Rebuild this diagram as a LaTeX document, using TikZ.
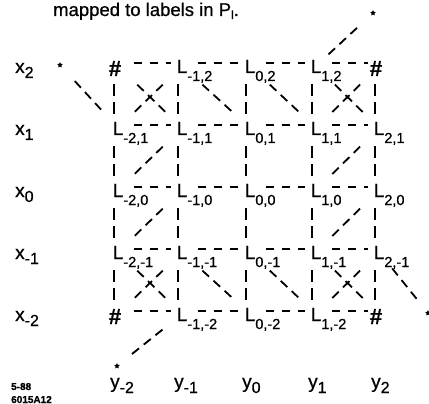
\documentclass[tikz,border=0pt]{standalone}
\usepackage{fontspec}
\setmainfont{Liberation Sans}[FakeBold=0.7]
\usetikzlibrary{calc,shapes.geometric}
\newcommand\lsub[1]{\raisebox{-8pt}{\fontsize{14.5}{14.5}\selectfont #1}}
\newcommand\rsub[1]{\raisebox{-5pt}{\fontsize{16}{16}\selectfont #1}}
\newcommand\tsub[1]{\raisebox{-3pt}{\fontsize{12}{12}\selectfont #1}}
\begin{document}
\begin{tikzpicture}[x=1pt,y=-1pt,
  lab/.style={font=\fontsize{19}{19}\selectfont, inner sep=0pt, anchor=base west},
  hashnode/.style={font=\fontsize{22}{22}\selectfont\bfseries, inner sep=0pt, anchor=base},
  hl/.style={line width=1.8pt, dash pattern=on 8pt off 8pt},
  vl/.style={line width=1.8pt, dash pattern=on 12pt off 6pt},
  dg/.style={line width=1.8pt, dash pattern=on 9pt off 6pt},
  starnode/.style={star, star points=5, star point ratio=2, fill=black, draw=none, inner sep=0pt, minimum size=6pt}]
\useasboundingbox (0,0) rectangle (429,404);

% grid coordinates
\foreach \i/\xx in {-2/114,-1/178,0/246,1/312,2/375}{
  \foreach \j/\yy in {2/59,1/121,0/183,-1/245,-2/307}{
    \coordinate (p\i\j) at (\xx,\yy+4);
    \coordinate (c\i\j) at (\xx+4,\yy+7);
  }
}

% title and side notes
\node[anchor=base west, inner sep=0pt, font=\fontsize{18.5}{18.5}\selectfont] (title) at (53,16) {mapped to labels in P\tsub{l}.};
\node[anchor=base west, inner sep=0pt, font=\fontsize{10}{10}\selectfont\bfseries] (note1) at (11,390) {5-88};
\node[anchor=base west, inner sep=0pt, font=\fontsize{10}{10}\selectfont\bfseries] (note2) at (11,403) {6015A12};

% row labels
\foreach \j/\yy in {2/59,1/121,0/183,-1/245,-2/307}{
  \node[lab] (x\j) at (15,\yy+14) {x\rsub{\j}};
}
% column labels
\foreach \i/\xx in {-2/114,-1/178,0/246,1/312,2/375}{
  \node[lab] (y\i) at (\xx-4,388) {y\rsub{\i}};
}

% L labels
\foreach \i/\j in {-1/2,0/2,1/2,
  -2/1,-1/1,0/1,1/1,2/1,
  -2/0,-1/0,0/0,1/0,2/0,
  -2/-1,-1/-1,0/-1,1/-1,2/-1,
  -1/-2,0/-2,1/-2}{
  \node[lab] (L\i\j) at ($(p\i\j)+(-1.4,10)$) {L\lsub{\i,\j}};
}
\foreach \i/\j in {-2/2,2/2,-2/-2,2/-2}{
  \node[hashnode] (L\i\j) at ($(p\i\j)+(1,13)$) {\#};
}

% stars
\node[starnode] (s1) at (373,13) {};
\node[starnode] (s2) at (60,65) {};
\node[starnode] (s3) at (428,313) {};
\node[starnode] (s4) at (117,366) {};

% horizontal connectors
\foreach \j in {2,1,0,-1,-2}{
  \foreach \i [evaluate=\i as \ip using int(\i+1)] in {-2,-1,0,1}{
    \draw[hl, shorten <=20pt, shorten >=7pt] (p\i\j) -- (p\ip\j);
  }
}
% vertical connectors
\foreach \i in {-2,-1,0,1,2}{
  \foreach \j [evaluate=\j as \jm using int(\j-1)] in {2,1,0,-1}{
    \draw[vl, shorten <=21pt, shorten >=8pt] (p\i\j) -- (p\i\jm);
  }
}

% diagonals inside cells (names are c<i><j>)
\foreach \a/\b in {-22/-11, -12/-21, 12/21, 22/11,
  -2-1/-1-2, -1-1/-2-2, 1-1/2-2, 2-1/1-2,
  -12/01, 02/11, -1-1/0-2, 0-1/1-2,
  -11/-20, 21/10, -10/-2-1, 20/1-1}{
  \draw[dg] ($(c\a)!0.3!(c\b)$) -- ($(c\a)!0.78!(c\b)$);
}

% diagonals to stars
\draw[dg, shorten <=17pt, shorten >=17pt] (c12) -- (s1);
\draw[dg, shorten <=19pt, shorten >=25pt] (s2) -- (c-21);
\draw[dg, shorten <=21pt, shorten >=14pt] (c2-1) -- (s3);
\draw[dg, shorten <=25pt, shorten >=16pt] (c-1-2) -- (s4);
\end{tikzpicture}
\end{document}
